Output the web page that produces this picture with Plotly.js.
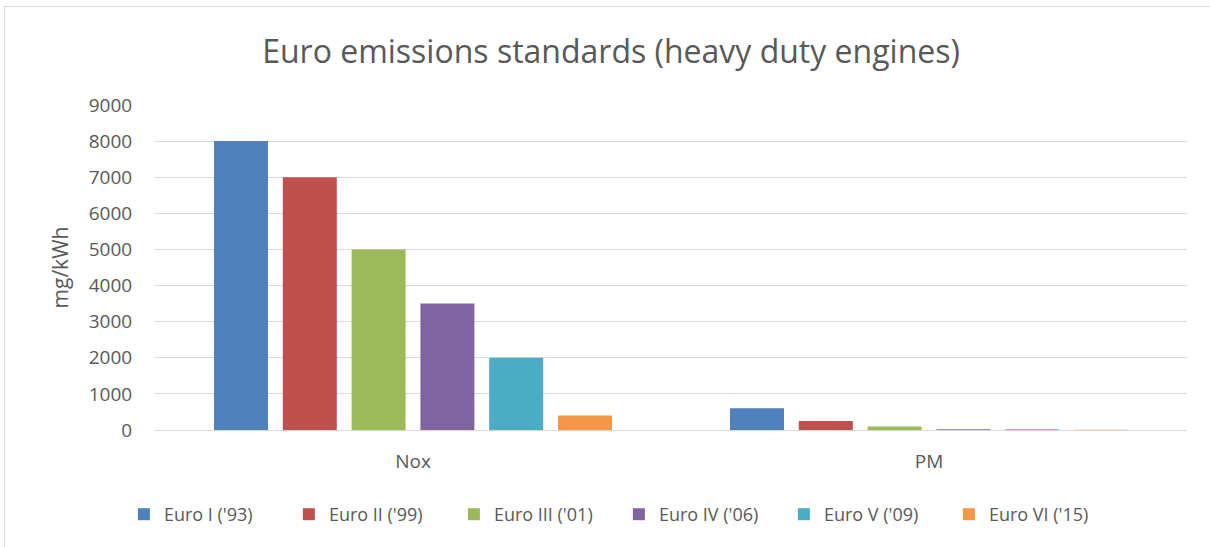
<!DOCTYPE html>
<html>
<head>
<meta charset="utf-8">
<script src="https://cdn.plot.ly/plotly-3.0.1.min.js"></script>
<style>
html,body{margin:0;padding:0;background:#fff;}
#frame{position:absolute;left:4px;top:6px;width:1220px;height:560px;border:1px solid #d9d9d9;box-sizing:border-box;}
#chart{position:absolute;left:0;top:0;width:1210px;height:547px;}
</style>
</head>
<body>
<div id="frame"></div>
<div id="chart"></div>
<script>
const categories = ["Nox", "PM"];
const seriesNames = ["Euro I ('93)", "Euro II ('99)", "Euro III ('01)", "Euro IV ('06)", "Euro V ('09)", "Euro VI ('15)"];
const euroI = [8000, 600];
const euroII = [7000, 250];
const euroIII = [5000, 100];
const euroIV = [3500, 20];
const euroV = [2000, 20];
const euroVI = [400, 10];
const seriesValues = [euroI, euroII, euroIII, euroIV, euroV, euroVI];
const colors = ["#4F81BD", "#C0504D", "#9BBB59", "#8064A2", "#4BACC6", "#F79646"];
const yTicks = [0, 1000, 2000, 3000, 4000, 5000, 6000, 7000, 8000, 9000];

const font = "Open Sans, Noto Sans, sans-serif";
const grey = "#595959";

const traces = seriesNames.map((name, i) => ({
  type: "bar",
  name: name,
  x: categories,
  y: seriesValues[i],
  marker: {color: colors[i]},
  hoverinfo: "x+y+name"
}));

const layout = {
  width: 1210,
  height: 547,
  paper_bgcolor: "rgba(0,0,0,0)",
  plot_bgcolor: "rgba(0,0,0,0)",
  margin: {l: 155, r: 23, t: 105, b: 117, autoexpand: false},
  barmode: "group",
  bargap: 0.2,
  bargroupgap: 0.215,
  title: {
    text: "Euro emissions standards (heavy duty engines)",
    font: {family: font, size: 32, color: grey},
    x: 0.505, xanchor: "center",
    y: 0.905, yanchor: "middle"
  },
  xaxis: {
    tickfont: {family: font, size: 19, color: grey},
    showline: true, linecolor: "#d9d9d9", linewidth: 1,
    ticks: "outside", ticklen: 14, tickcolor: "rgba(0,0,0,0)",
    showgrid: false
  },
  yaxis: {
    title: {text: "mg/kWh", font: {family: font, size: 21, color: grey}, standoff: 14},
    range: [0, 9000],
    tickvals: yTicks,
    ticktext: yTicks.map(String),
    tickfont: {family: font, size: 19, color: grey},
    gridcolor: "#d9d9d9", gridwidth: 1,
    zeroline: true, zerolinecolor: "#d9d9d9",
    ticks: "outside", ticklen: 18, tickcolor: "rgba(0,0,0,0)"
  },
  showlegend: true,
  legend: {
    orientation: "h",
    x: 0.4495, xanchor: "center",
    y: -0.26, yanchor: "middle",
    font: {family: font, size: 18, color: grey},
    itemwidth: 30,
    entrywidth: 120,
    traceorder: "normal"
  }
};

Plotly.newPlot("chart", traces, layout, {displayModeBar: false, staticPlot: true});
</script>
</body>
</html>
